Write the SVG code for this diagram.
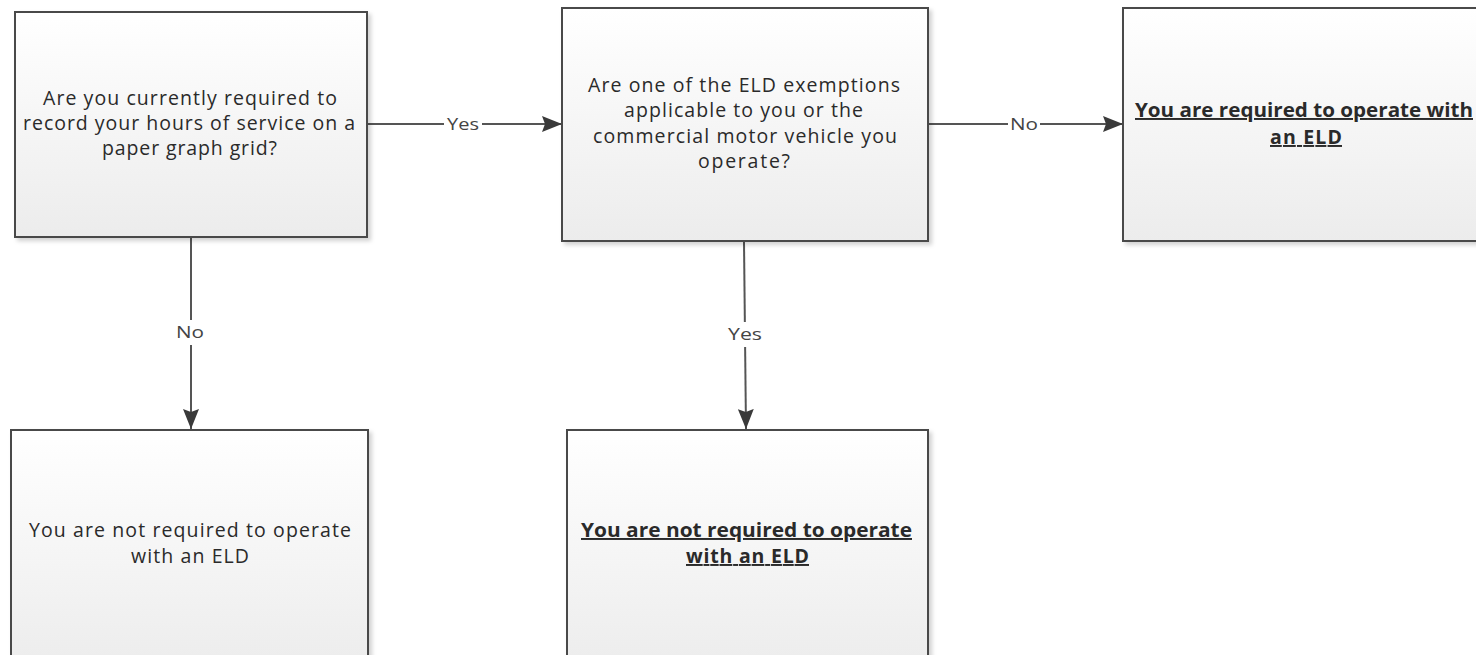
<svg xmlns="http://www.w3.org/2000/svg" width="1476" height="655" viewBox="0 0 1476 655">
<defs>
<linearGradient id="boxfill" x1="0" y1="0" x2="0" y2="1">
<stop offset="0" stop-color="#ffffff"/>
<stop offset="1" stop-color="#ececec"/>
</linearGradient>
<filter id="shadow" x="-5%" y="-5%" width="115%" height="115%">
<feDropShadow dx="3" dy="3" stdDeviation="2" flood-color="#000" flood-opacity="0.18"/>
</filter>
<marker id="arrow" viewBox="0 0 20 16" refX="20" refY="8" markerWidth="20" markerHeight="16" markerUnits="userSpaceOnUse" orient="auto">
<path d="M0,0 L20,8 L0,16 L3,8 Z" fill="#3a3a3a"/>
</marker>
</defs>
<style>
.box{fill:url(#boxfill);stroke:#4a4a4a;stroke-width:2;filter:url(#shadow)}
.t{font-family:"Open Sans","Liberation Sans",sans-serif;font-size:19.5px;fill:#2a2a2a;text-anchor:middle}
.b{font-weight:bold;font-size:19.5px;text-decoration:underline}
.conn{stroke:#555;stroke-width:2;fill:none}
.lbl{font-family:"Open Sans","Liberation Sans",sans-serif;font-size:17px;fill:#444;text-anchor:middle}
.lblbg{fill:#fff}
</style>
<rect width="1476" height="655" fill="#fff"/>
<g id="connectors">
<line class="conn" x1="368" y1="124" x2="562" y2="124" marker-end="url(#arrow)"/>
<rect class="lblbg" x="444" y="114" width="38" height="20"/>
<text class="lbl" x="463" y="130" textLength="32" lengthAdjust="spacingAndGlyphs">Yes</text>
<line class="conn" x1="929" y1="124" x2="1123" y2="124" marker-end="url(#arrow)"/>
<rect class="lblbg" x="1008" y="114" width="32" height="20"/>
<text class="lbl" x="1024" y="130" textLength="28" lengthAdjust="spacingAndGlyphs">No</text>
<line class="conn" x1="191" y1="238" x2="191" y2="429" marker-end="url(#arrow)"/>
<rect class="lblbg" x="176" y="320" width="30" height="25"/>
<text class="lbl" x="190" y="338" textLength="28" lengthAdjust="spacingAndGlyphs">No</text>
<line class="conn" x1="744" y1="242" x2="746" y2="429" marker-end="url(#arrow)"/>
<rect class="lblbg" x="726" y="322" width="38" height="25"/>
<text class="lbl" x="745" y="340" textLength="34" lengthAdjust="spacingAndGlyphs">Yes</text>
</g>
<g id="node-q1">
<rect class="box" x="15" y="12" width="352" height="225"/>
<text class="t" x="190" y="105" textLength="294" lengthAdjust="spacing">Are you currently required to</text>
<text class="t" x="189" y="130" textLength="332" lengthAdjust="spacing">record your hours of service on a</text>
<text class="t" x="189.5" y="155" textLength="175" lengthAdjust="spacing">paper graph grid?</text>
</g>
<g id="node-q2">
<rect class="box" x="562" y="8" width="366" height="233"/>
<text class="t" x="744" y="92" textLength="312" lengthAdjust="spacing">Are one of the ELD exemptions</text>
<text class="t" x="743.5" y="117" textLength="239" lengthAdjust="spacing">applicable to you or the</text>
<text class="t" x="745" y="143" textLength="304" lengthAdjust="spacing">commercial motor vehicle you</text>
<text class="t" x="744" y="168" textLength="92" lengthAdjust="spacing">operate?</text>
</g>
<g id="node-required">
<rect class="box" x="1123" y="8" width="370" height="233"/>
<text class="t b" x="1304" y="117" textLength="338" lengthAdjust="spacingAndGlyphs">You are required to operate with</text>
<text class="t b" x="1306" y="144" textLength="72" lengthAdjust="spacing">an ELD</text>
</g>
<g id="node-notreq1">
<rect class="box" x="11" y="430" width="357" height="240"/>
<text class="t" x="190" y="537" textLength="322" lengthAdjust="spacing">You are not required to operate</text>
<text class="t" x="190" y="563" textLength="118" lengthAdjust="spacing">with an ELD</text>
</g>
<g id="node-notreq2">
<rect class="box" x="567" y="430" width="361" height="240"/>
<text class="t b" x="746.5" y="537" textLength="331" lengthAdjust="spacingAndGlyphs">You are not required to operate</text>
<text class="t b" x="747.5" y="563" textLength="123" lengthAdjust="spacing">with an ELD</text>
</g>
</svg>
